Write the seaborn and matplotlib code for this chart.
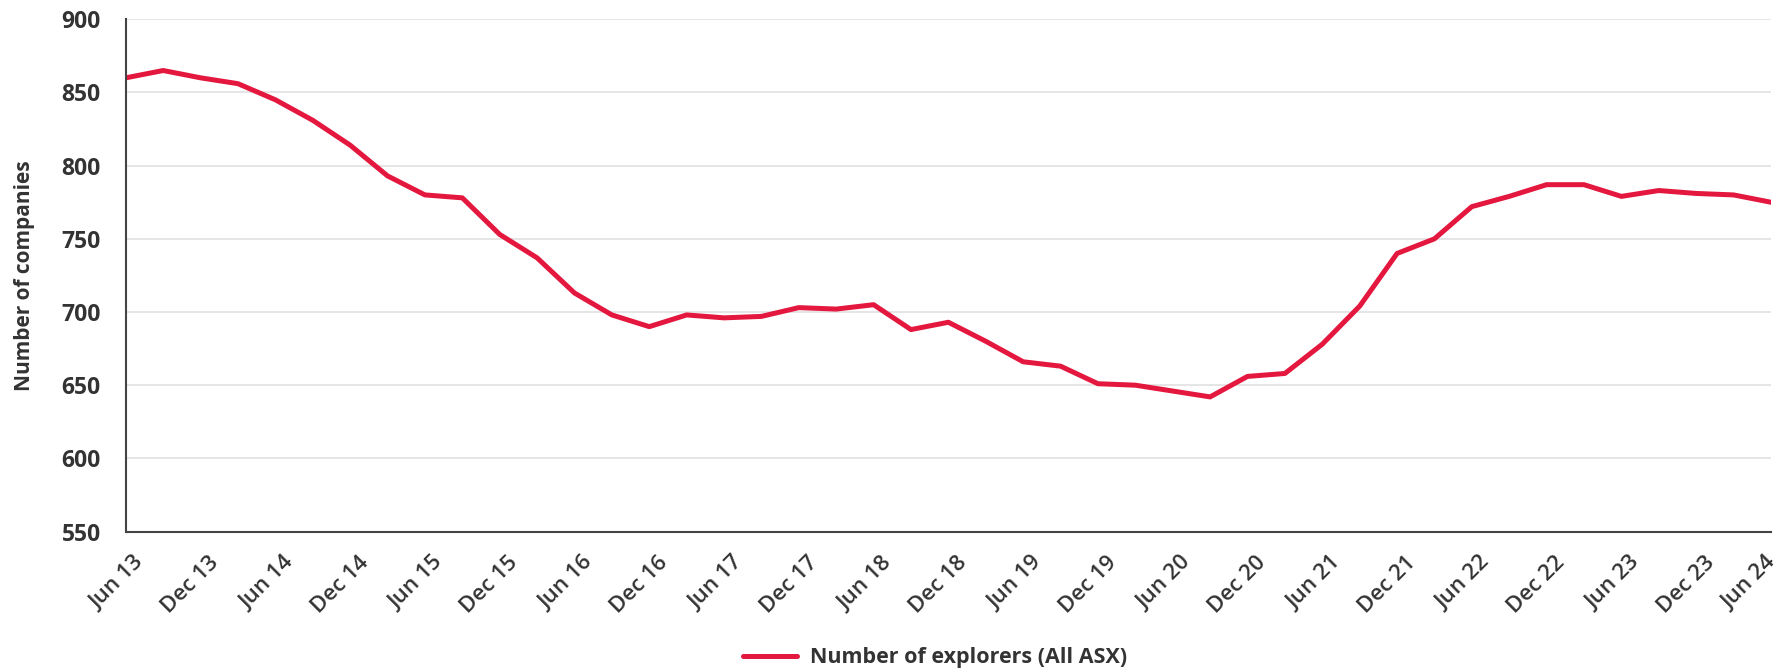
import matplotlib
matplotlib.use("Agg")
import matplotlib.pyplot as plt
import matplotlib.transforms as mtransforms
import seaborn as sns
import pandas as pd

# Quarterly count of ASX-listed explorers, June 2013 to June 2024
quarters = [
    "Jun 13", "Sep 13", "Dec 13", "Mar 14", "Jun 14", "Sep 14", "Dec 14", "Mar 15",
    "Jun 15", "Sep 15", "Dec 15", "Mar 16", "Jun 16", "Sep 16", "Dec 16", "Mar 17",
    "Jun 17", "Sep 17", "Dec 17", "Mar 18", "Jun 18", "Sep 18", "Dec 18", "Mar 19",
    "Jun 19", "Sep 19", "Dec 19", "Mar 20", "Jun 20", "Sep 20", "Dec 20", "Mar 21",
    "Jun 21", "Sep 21", "Dec 21", "Mar 22", "Jun 22", "Sep 22", "Dec 22", "Mar 23",
    "Jun 23", "Sep 23", "Dec 23", "Mar 24", "Jun 24",
]
explorers = [
    860, 865, 860, 856, 845, 831, 814, 793,
    780, 778, 753, 737, 713, 698, 690, 698,
    696, 697, 703, 702, 705, 688, 693, 680,
    666, 663, 651, 650, 646, 642, 656, 658,
    678, 704, 740, 750, 772, 779, 787, 787,
    779, 783, 781, 780, 775,
]
y_ticks = [550, 600, 650, 700, 750, 800, 850, 900]

series_name = "Number of explorers (All ASX)"
df = pd.DataFrame({"pos": range(len(quarters)), "quarter": quarters, "count": explorers})

sns.set_theme(style="white")
plt.rcParams["font.family"] = ["Open Sans", "DejaVu Sans"]

text_color = "#333333"
line_color = "#e4173e"

fig = plt.figure(figsize=(17.77, 6.72), dpi=100)
ax = fig.add_axes([0.0708, 0.209, 0.9258, 0.7623])

sns.lineplot(data=df, x="pos", y="count", ax=ax, color=line_color,
             linewidth=3.6, label=series_name, legend=False)

ax.set_xlim(0, len(quarters) - 1)
ax.set_ylim(550, 900)
ax.set_yticks(y_ticks)
ax.set_yticklabels([str(v) for v in y_ticks], fontsize=16.5, fontweight="bold", color=text_color)

tick_pos = list(range(0, len(quarters), 2))
ax.set_xticks(tick_pos)
ax.set_xticklabels([quarters[i] for i in tick_pos], rotation=45, ha="right",
                   rotation_mode="anchor", fontsize=16, fontweight="semibold",
                   color=text_color)
ax.tick_params(axis="x", length=0, pad=15)
ax.tick_params(axis="y", length=0, pad=18)

# nudge the date labels right of their ticks; the final one stays inside the canvas
xlabels = ax.get_xticklabels()
for i, lab in enumerate(xlabels):
    dx = 8 if i < len(xlabels) - 1 else -6
    lab.set_transform(lab.get_transform() +
                      mtransforms.ScaledTranslation(dx / 100, 0, fig.dpi_scale_trans))

ax.yaxis.grid(True, color="#e3e3e3", linewidth=1.3)
ax.xaxis.grid(False)
ax.set_axisbelow(True)

for side in ("top", "right"):
    ax.spines[side].set_visible(False)
for side in ("left", "bottom"):
    ax.spines[side].set_color("#444444")
    ax.spines[side].set_linewidth(1.5)

ax.set_xlabel("")
ax.set_ylabel("Number of companies", fontsize=15, fontweight="bold",
              color=text_color)
ax.yaxis.set_label_coords(-0.0555, 0.5)

handles, labels = ax.get_legend_handles_labels()
leg = fig.legend(handles, labels, loc="center", bbox_to_anchor=(0.526, 0.021),
                 frameon=False, handlelength=2.5, handletextpad=0.6,
                 prop={"size": 15.5, "weight": "bold"})
for t in leg.get_texts():
    t.set_color(text_color)

fig.savefig("out.png", dpi=100)
